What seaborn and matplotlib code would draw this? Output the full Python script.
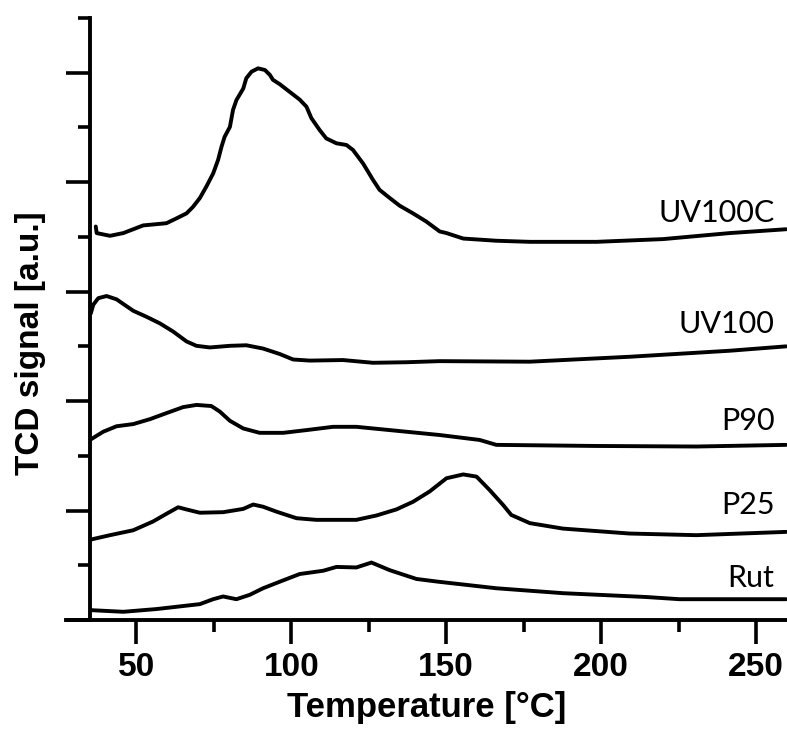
import numpy as np
import pandas as pd
import matplotlib.pyplot as plt
import seaborn as sns
from matplotlib.ticker import MultipleLocator

# ------- data (temperature in °C, signal in offset a.u.) -------
uv100c_t = [36.9, 37.2, 41.5, 45.8, 52.2, 59.7, 63.0, 66.2, 68.3, 70.5, 72.6, 74.8, 76.4,
            77.5, 78.5, 80.2, 81.2, 82.3, 84.5, 85.5, 87.2, 89.3, 91.5, 93.1, 94.1, 96.3,
            99.5, 102.7, 104.9, 106.5, 109.2, 111.3, 114.6, 117.8, 119.9, 123.2, 126.4,
            128.5, 131.8, 135.0, 139.3, 143.6, 147.9, 150.1, 155.5, 166.2, 177.0, 198.5,
            220.0, 241.5, 259.7]
uv100c_s = [7.19, 7.07, 7.02, 7.07, 7.21, 7.25, 7.34, 7.43, 7.55, 7.71, 7.92, 8.16, 8.41,
            8.65, 8.83, 9.01, 9.32, 9.50, 9.71, 9.90, 10.02, 10.08, 10.05, 9.96, 9.87, 9.79,
            9.65, 9.51, 9.38, 9.17, 8.95, 8.80, 8.71, 8.68, 8.59, 8.34, 8.04,
            7.86, 7.71, 7.57, 7.43, 7.28, 7.10, 7.07, 6.97, 6.93, 6.91, 6.91,
            6.96, 7.07, 7.14]

uv100_t = [35.3, 36.1, 37.7, 40.4, 43.6, 49.0, 53.3, 57.6, 61.9, 66.2, 69.4, 73.7, 80.2,
           85.5, 90.9, 96.3, 100.6, 106.0, 116.7, 126.4, 137.2, 147.9, 177.0, 209.2,
           241.5, 259.7]
uv100_s = [5.60, 5.76, 5.88, 5.92, 5.86, 5.65, 5.54, 5.42, 5.27, 5.09, 5.01, 4.98, 5.01,
           5.02, 4.96, 4.86, 4.76, 4.74, 4.75, 4.70, 4.71, 4.73, 4.72, 4.81,
           4.92, 5.00]

p90_t = [35.3, 39.3, 43.6, 49.0, 54.4, 59.7, 65.1, 69.4, 74.2, 76.9, 80.2, 84.5, 89.8,
         97.4, 104.9, 113.5, 121.0, 131.8, 147.9, 160.8, 166.2, 198.5, 230.7, 259.7]
p90_s = [3.30, 3.44, 3.54, 3.58, 3.67, 3.78, 3.89, 3.93, 3.91, 3.81, 3.64, 3.50, 3.42,
         3.42, 3.47, 3.53, 3.53, 3.47, 3.38, 3.29, 3.20, 3.18, 3.17, 3.20]

p25_t = [35.3, 41.5, 49.0, 55.4, 59.7, 63.5, 66.2, 70.5, 78.0, 84.5, 87.7, 90.9, 95.2,
         101.7, 108.1, 121.0, 127.5, 133.9, 139.3, 144.7, 147.4, 150.1, 155.5, 159.8,
         164.1, 168.4, 171.0, 177.0, 187.7, 209.2, 230.7, 259.7]
p25_s = [1.47, 1.55, 1.64, 1.80, 1.94, 2.06, 2.02, 1.96, 1.97, 2.03, 2.11, 2.07, 1.98,
         1.86, 1.83, 1.83, 1.91, 2.02, 2.16, 2.35, 2.47, 2.59, 2.66, 2.62,
         2.37, 2.10, 1.92, 1.77, 1.67, 1.58, 1.55, 1.61]

rut_t = [35.3, 45.8, 56.5, 70.5, 74.8, 78.0, 82.3, 86.6, 90.9, 96.3, 102.7, 110.3, 114.6,
         121.0, 125.9, 131.8, 140.4, 147.4, 166.2, 187.7, 214.6, 225.3, 259.7]
rut_s = [0.18, 0.15, 0.20, 0.29, 0.38, 0.43, 0.38, 0.46, 0.58, 0.70, 0.84, 0.90, 0.97,
         0.96, 1.05, 0.91, 0.75, 0.70, 0.58, 0.49, 0.42, 0.38, 0.38]

sample_names = ["UV100C", "UV100", "P90", "P25", "Rut"]
label_levels = [7.27, 5.24, 3.47, 1.94, 0.60]
# -------------------------------------------------------------------------------------

series = {
    "UV100C": (uv100c_t, uv100c_s),
    "UV100": (uv100_t, uv100_s),
    "P90": (p90_t, p90_s),
    "P25": (p25_t, p25_s),
    "Rut": (rut_t, rut_s),
}
df = pd.concat(
    [pd.DataFrame({"T": t, "signal": s, "sample": name}) for name, (t, s) in series.items()],
    ignore_index=True,
)

sns.set_style("ticks")
plt.rcParams["font.family"] = ["Liberation Sans", "DejaVu Sans"]
plt.rcParams["text.color"] = "black"
plt.rcParams["axes.labelcolor"] = "black"
plt.rcParams["xtick.color"] = "black"
plt.rcParams["ytick.color"] = "black"

fig = plt.figure(figsize=(7.87, 7.42), dpi=100)
ax = fig.add_axes([66 / 787, 122 / 742, 1 - 66 / 787, (620 - 18) / 742])

for name in sample_names:
    sns.lineplot(data=df[df["sample"] == name], x="T", y="signal", color="black",
                 linewidth=2.8, estimator=None, sort=False, ax=ax,
                 solid_joinstyle="round", solid_capstyle="round")

for name, level in zip(sample_names, label_levels):
    ax.text(256, level, name, ha="right", va="baseline", fontsize=22, color="black",
            family=["Lato", "DejaVu Sans"])

ax.set_xlim(27.3, 260)
ax.set_ylim(0, 11)

ax.spines["left"].set_position(("data", 35))
ax.spines["top"].set_visible(False)
ax.spines["right"].set_visible(False)
for sp in ("left", "bottom"):
    ax.spines[sp].set_linewidth(2.8)
    ax.spines[sp].set_color("black")

ax.xaxis.set_major_locator(MultipleLocator(50))
ax.xaxis.set_minor_locator(MultipleLocator(25))
ax.yaxis.set_major_locator(MultipleLocator(2))
ax.yaxis.set_minor_locator(MultipleLocator(1))
ax.tick_params(which="major", length=17, width=2.6, color="black")
ax.tick_params(which="minor", length=8.5, width=2.6, color="black")
ax.tick_params(axis="x", labelsize=24, pad=6, labelcolor="black")
ax.tick_params(axis="y", labelleft=False)
for lab in ax.get_xticklabels():
    lab.set_fontweight("bold")

ax.set_xlabel("Temperature [°C]", fontsize=25, fontweight="bold", labelpad=6)
ax.set_ylabel("TCD signal [a.u.]", fontsize=24, fontweight="bold")
ax.yaxis.set_label_coords(-0.028, 0.46)

fig.savefig("out.png", dpi=100)
